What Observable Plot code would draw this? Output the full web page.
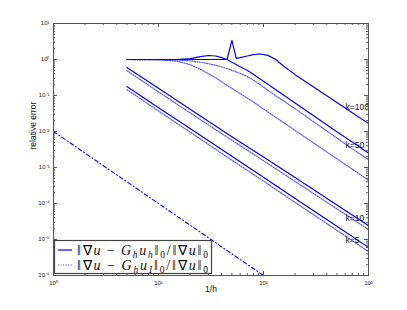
<!DOCTYPE html>
<html><head><meta charset="utf-8">
<script src="https://cdn.jsdelivr.net/npm/d3@7"></script>
<script src="https://cdn.jsdelivr.net/npm/@observablehq/plot@0.6"></script>
<style>body{margin:0;background:#fff} svg{display:block}</style>
</head><body><div id="chart"></div>
<script>
// mesh sizes 1/h
const nSmall = [5, 10, 20, 50, 100, 200, 500, 1000];
const k5Gh  = [0.178, 0.046, 0.0121, 0.00204, 5.37e-4, 1.38e-4, 2.34e-5, 6.0e-6];
const k5GI  = [0.146, 0.037, 0.0096, 0.0016, 4.2e-4, 1.07e-4, 1.8e-5, 4.6e-6];
const k10Gh = [0.6, 0.158, 0.0417, 0.0072, 0.00195, 5.25e-4, 9.1e-5, 2.45e-5];
const k10GI = [0.49, 0.126, 0.033, 0.0057, 0.00154, 4.1e-4, 7.1e-5, 1.9e-5];

const nLarge = [5, 10, 15, 20, 25, 30, 35, 40, 45, 50, 55, 60, 70, 80, 93, 110, 130, 156, 200, 300, 500, 700, 1000];
const k50Gh  = [1.0, 1.0, 1.0, 1.06, 1.2, 1.29, 1.25, 1.13, 1.0, 0.84, 0.73, 0.63, 0.505, 0.39, 0.286, 0.205, 0.146, 0.102, 0.062, 0.0275, 0.0099, 0.0051, 0.0025];
const k50GI  = [1.0, 0.98, 0.9, 0.72, 0.54, 0.4, 0.31, 0.24, 0.192, 0.158, 0.132, 0.113, 0.085, 0.066, 0.049, 0.035, 0.025, 0.0176, 0.0107, 0.0048, 0.00175, 0.0009, 0.00044];
const k100Gh = [1.0, 1.0, 1.0, 1.0, 1.0, 1.0, 1.0, 1.0, 1.0, 3.4, 1.08, 1.13, 1.25, 1.36, 1.42, 1.3, 1.02, 0.65, 0.38, 0.172, 0.064, 0.033, 0.0167];
const k100GI = [1.0, 0.99, 0.97, 0.92, 0.84, 0.76, 0.69, 0.62, 0.56, 0.5, 0.45, 0.41, 0.34, 0.27, 0.2, 0.14, 0.1, 0.07, 0.043, 0.0187, 0.0066, 0.0033, 0.00165];

// reference slope line
const refN = [1, 100];
const refErr = [1e-2, 1e-6];

// curve labels
const kLabels = ["k=100", "k=50", "k=10", "k=5"];
const kLabelN = [604, 604, 604, 604];
const kLabelErr = [0.046, 0.0041, 3.9e-5, 9.3e-6];

const xTicks = [1, 10, 100, 1000];
const yTicks = [1e-6, 1e-5, 1e-4, 1e-3, 1e-2, 1e-1, 1, 10];

const series = (ns, vals, k) => ns.map((n, i) => ({n, e: vals[i], k}));
const solid = [...series(nSmall, k5Gh, 5), ...series(nSmall, k10Gh, 10), ...series(nLarge, k50Gh, 50), ...series(nLarge, k100Gh, 100)];
const dotted = [...series(nSmall, k5GI, 5), ...series(nSmall, k10GI, 10), ...series(nLarge, k50GI, 50), ...series(nLarge, k100GI, 100)];
const ref = refN.map((n, i) => ({n, e: refErr[i]}));
const labels = kLabels.map((t, i) => ({t, n: kLabelN[i], e: kLabelErr[i]}));

const supMap = {"-": "⁻", "0": "⁰", "1": "¹", "2": "²", "3": "³", "4": "⁴", "5": "⁵", "6": "⁶", "7": "⁷", "8": "⁸", "9": "⁹"};
const fmt = d => "10" + String(Math.round(Math.log10(d))).replace(/./g, c => supMap[c]);

const xAll = d3.scaleLog().domain([1, 1000]).ticks();
const yAll = d3.scaleLog().domain([1e-6, 10]).ticks();
const isMajor = d => Math.abs(Math.log10(d) - Math.round(Math.log10(d))) < 1e-9;
const xMinor = xAll.filter(d => !isMajor(d)), xMajor = xAll.filter(isMajor);
const yMinor = yAll.filter(d => !isMajor(d)), yMajor = yAll.filter(isMajor);

const W = 407, H = 310, mL = 53, mR = 39, mT = 23, mB = 35;
const fw = W - mL - mR, fh = H - mT - mB;
const axisColor = "#555";
const dotDash = "1.2,1.3";

const plot = Plot.plot({
  width: W, height: H,
  marginLeft: mL, marginRight: mR, marginTop: mT, marginBottom: mB,
  style: {fontFamily: "Liberation Sans, Arial, sans-serif", fontSize: "6px", background: "#fff", color: "#222"},
  x: {type: "log", domain: [1, 1000], axis: null},
  y: {type: "log", domain: [1e-6, 10], axis: null},
  marks: [
    Plot.line(ref, {x: "n", y: "e", stroke: "#0000ff", strokeWidth: 1.1, strokeDasharray: "4,2.5,1,2.5", clip: true}),
    Plot.line(dotted, {x: "n", y: "e", z: "k", stroke: "#0000ff", strokeWidth: 1.2, strokeDasharray: dotDash, strokeOpacity: 0.65, clip: true}),
    Plot.line(solid, {x: "n", y: "e", z: "k", stroke: "#0000ff", strokeWidth: 1.2, clip: true}),
    Plot.text(labels, {x: "n", y: "e", text: "t", textAnchor: "start", fontSize: 8.5, fill: "#111"}),
    // inward ticks on all sides
    Plot.tickX(xMinor, {x: d => d, insetTop: fh - 2, stroke: axisColor}),
    Plot.tickX(xMinor, {x: d => d, insetBottom: fh - 2, stroke: axisColor}),
    Plot.tickX(xMajor, {x: d => d, insetTop: fh - 4, stroke: axisColor}),
    Plot.tickX(xMajor, {x: d => d, insetBottom: fh - 4, stroke: axisColor}),
    Plot.tickY(yMinor, {y: d => d, insetRight: fw - 2, stroke: axisColor}),
    Plot.tickY(yMinor, {y: d => d, insetLeft: fw - 2, stroke: axisColor}),
    Plot.tickY(yMajor, {y: d => d, insetRight: fw - 4, stroke: axisColor}),
    Plot.tickY(yMajor, {y: d => d, insetLeft: fw - 4, stroke: axisColor}),
    Plot.frame({stroke: axisColor, strokeWidth: 1}),
    Plot.axisX(xTicks, {anchor: "bottom", tickSize: 0, tickPadding: 5, tickFormat: fmt, label: null}),
    Plot.axisY(yTicks, {anchor: "left", tickSize: 0, tickPadding: 4, tickFormat: fmt, label: null}),
    Plot.text(["1/h"], {frameAnchor: "bottom", dy: 16, fontSize: 8.5, fill: "#111"}),
    Plot.text(["relative error"], {frameAnchor: "left", dx: -20, rotate: -90, fontSize: 8.5, fill: "#111"})
  ]
});
document.getElementById("chart").appendChild(plot);

// legend box (inside lower-left of the frame)
const svg = d3.select(plot);
const lg = svg.append("g").attr("text-anchor", "start");
lg.append("rect").attr("x", 54.5).attr("y", 240.5).attr("width", 157).attr("height", 33)
  .attr("fill", "#fff").attr("stroke", "#444").attr("stroke-width", 1.2);
lg.append("line").attr("x1", 58).attr("x2", 72).attr("y1", 250).attr("y2", 250)
  .attr("stroke", "#0000ff").attr("stroke-width", 1.2);
lg.append("line").attr("x1", 58).attr("x2", 72).attr("y1", 265).attr("y2", 265)
  .attr("stroke", "#0000ff").attr("stroke-width", 1.2).attr("stroke-dasharray", dotDash).attr("stroke-opacity", 0.65);

function formula(y, subU) {
  const parts = [["‖∇", 0], ["u", 1], ["\u2009−\u2009", 0], ["G", 1], ["h", 2], ["u", 1], [subU, 2], ["‖", 0], ["0", 3], ["/", 0], ["‖∇", 0], ["u", 1], ["‖", 0], ["0", 3]];
  const t = lg.append("text").attr("x", 77).attr("y", y).attr("text-anchor", "start")
    .attr("font-family", "Liberation Serif, serif").attr("font-size", 14).attr("fill", "#111")
    .attr("textLength", 131).attr("lengthAdjust", "spacing");
  let shift = 0;
  for (const [s, kind] of parts) {
    const target = kind >= 2 ? 3 : 0;
    const sp = t.append("tspan").text(s).attr("dy", target - shift);
    shift = target;
    if (kind === 1 || kind === 2) sp.attr("font-style", "italic");
    if (kind >= 2) sp.attr("font-size", 9.5);
  }
  return t;
}
formula(254.5, "h");
formula(269.5, "I");
</script>
</body></html>
